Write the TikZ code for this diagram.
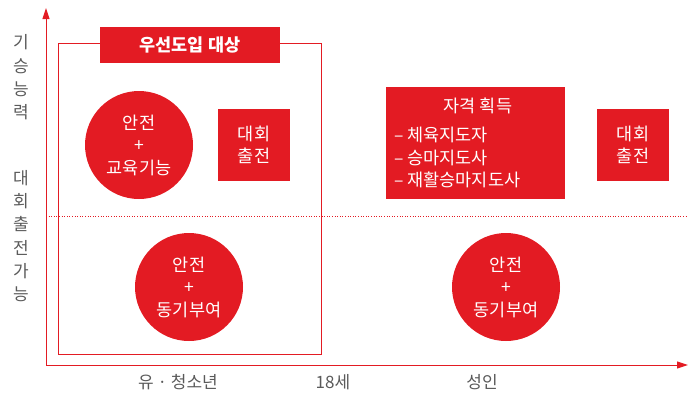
\documentclass[tikz,border=0pt]{standalone}
\usepackage{fontspec}
\setmainfont{Noto Sans CJK KR}
\usetikzlibrary{arrows.meta}
\definecolor{kred}{HTML}{E31B23}
\definecolor{kgray}{HTML}{5A5A5A}
\tikzset{
  redcircle/.style={circle, fill=kred, text=white, minimum size=108pt, inner sep=0pt, align=center, font=\fontsize{17.5}{22.5}\selectfont},
  redbox/.style={rectangle, fill=kred, text=white, inner sep=0pt, align=center, font=\fontsize{17.5}{22.5}\selectfont},
  axislabel/.style={text=kgray, align=center, inner sep=0pt, font=\fontsize{17}{23.3}\selectfont},
  axisline/.style={draw=kred, line width=1pt, -{Triangle[length=11pt,width=7pt]}},
}
\begin{document}
\begin{tikzpicture}[x=1pt,y=-1pt]
\useasboundingbox (0,0) rectangle (688,392);
% axes
\coordinate (o) at (46,365);
\coordinate (ytop) at (46,8);
\coordinate (xend) at (688,365);
\draw[axisline] (o) -- (ytop);
\draw[axisline] (o) -- (xend);
% dotted separator
\coordinate (d1) at (46,216.5);
\coordinate (d2) at (688,216.5);
\draw[kred, line width=0.6pt, dotted] (d1) -- (d2);
% outer frame
\draw[kred, line width=0.9pt] (58,43) rectangle (321,354);
\node[redbox, minimum width=180pt, minimum height=36pt, font=\fontsize{17.5}{20}\selectfont\bfseries] (title) at (190,45) {우선도입 대상};
% circles
\node[redcircle] (c1) at (139,145) {안전\\+\\교육기능};
\node[redcircle] (c2) at (189,287) {안전\\+\\동기부여};
\node[redcircle] (c3) at (506,287) {안전\\+\\동기부여};
% boxes
\node[redbox, minimum width=72pt, minimum height=72pt] (b1) at (254,145) {대회\\출전};
\node[redbox, minimum width=72pt, minimum height=72pt] (b2) at (633,145) {대회\\출전};
\node[redbox, minimum width=179pt, minimum height=112pt] (q) at (475.5,143) {};
\node[text=white, inner sep=0pt, font=\fontsize{17.5}{22.5}\selectfont] (qt) at (478,106) {자격 획득};
\node[text=white, inner sep=0pt, align=left, anchor=west, font=\fontsize{17.5}{22.5}\selectfont] (ql) at (394,157.5) {– 체육지도자\\– 승마지도사\\– 재활승마지도사};
% axis labels
\node[axislabel] (yl1) at (21,77.5) {기\\승\\능\\력};
\node[axislabel] (yl2) at (21,236) {대\\회\\출\\전\\가\\능};
\node[axislabel] (xl1) at (178,382) {유 · 청소년};
\node[axislabel] (xl2) at (333,382) {18세};
\node[axislabel] (xl3) at (482,382) {성인};
\end{tikzpicture}
\end{document}
